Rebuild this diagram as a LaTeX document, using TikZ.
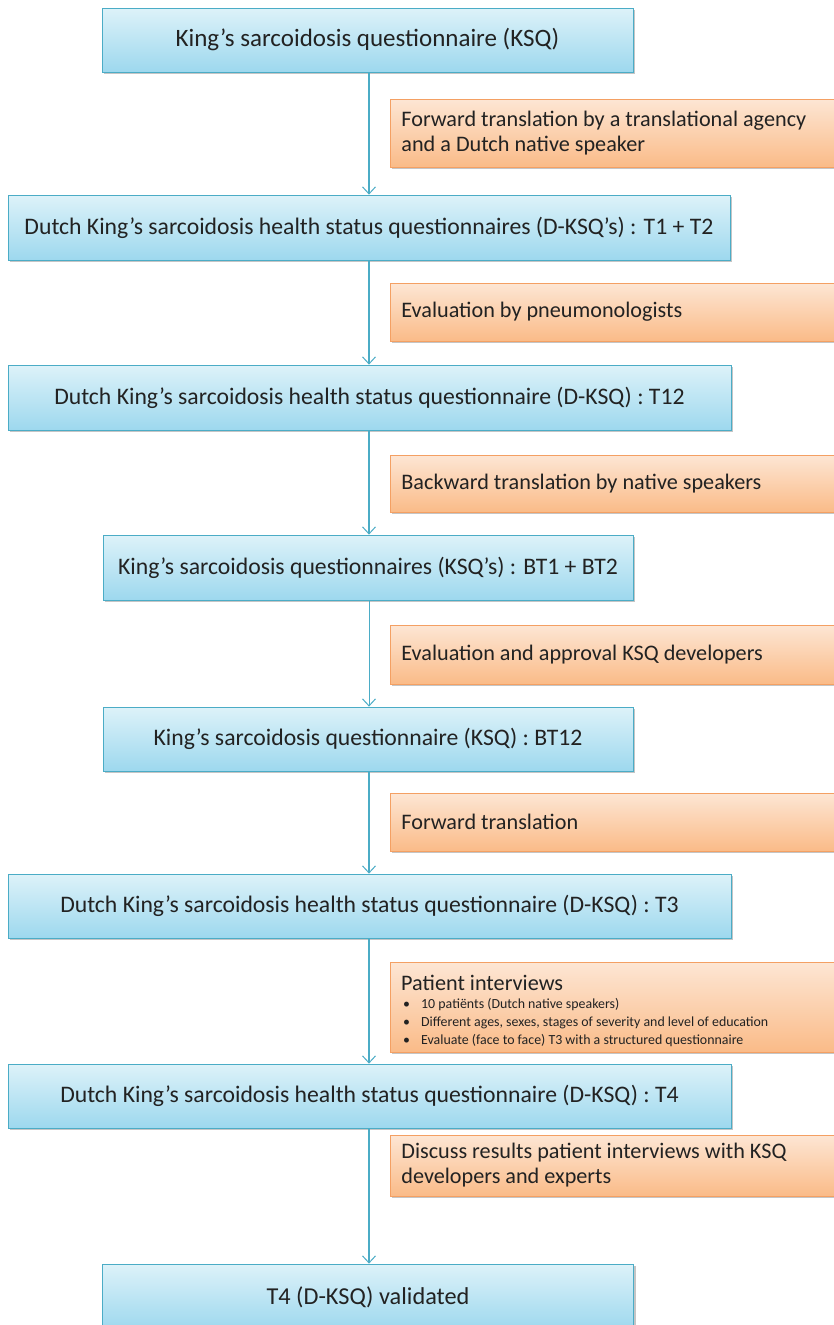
\documentclass[tikz,border=0pt]{standalone}
\usepackage{fontspec}
\setmainfont{Carlito}
\usetikzlibrary{shadows,arrows.meta}
\definecolor{bluetop}{HTML}{DDF2F9}
\definecolor{bluebot}{HTML}{9DD8EE}
\definecolor{blueline}{HTML}{4BACC6}
\definecolor{orgtop}{HTML}{FDE6D4}
\definecolor{orgbot}{HTML}{FABB88}
\definecolor{orgline}{HTML}{F4A063}
\definecolor{txt}{HTML}{222222}
\tikzset{
  bluebox/.style={draw=blueline, line width=0.8pt, top color=bluetop, bottom color=bluebot,
    drop shadow={opacity=0.45, shadow xshift=2pt, shadow yshift=-2pt},
    text=txt, font=\fontsize{23.7}{28}\selectfont, inner sep=0pt, align=center},
  orgbox/.style={draw=orgline, line width=0.8pt, top color=orgtop, bottom color=orgbot,
    drop shadow={opacity=0.45, shadow xshift=2pt, shadow yshift=-2pt},
    text=txt, font=\fontsize{22.2}{25}\selectfont, anchor=west, inner xsep=11pt, inner ysep=0pt,
    minimum width=460pt, text width=438pt, align=flush left},
  orgtext/.style={text=txt, font=\fontsize{22.2}{25}\selectfont, inner sep=0pt,
    text width=430pt, align=flush left},
  arr/.style={draw=blueline, line width=1.3pt, -{Straight Barb[length=7pt,width=13pt,line width=1pt]}}
}
\newcommand{\bulitem}{\makebox[20pt][l]{\hspace{2pt}\textbullet}}
\begin{document}
\begin{tikzpicture}[x=1pt,y=-1pt]
\useasboundingbox[fill=white] (0,0) rectangle (833,1325);
% blue boxes
\node[bluebox, minimum width=531pt, minimum height=64pt, font=\fontsize{25}{30}\selectfont] (b1) at (367.5,40) {King’s sarcoidosis questionnaire (KSQ)};
\node[bluebox, minimum width=722pt, minimum height=65pt] (b2) at (369,227.5) {Dutch King’s sarcoidosis health status questionnaires (D-KSQ’s) : T1 + T2};
\node[bluebox, minimum width=723pt, minimum height=65pt] (b3) at (369.5,397.5) {Dutch King’s sarcoidosis health status questionnaire (D-KSQ) : T12};
\node[bluebox, minimum width=530pt, minimum height=65pt] (b4) at (368,567.5) {King’s sarcoidosis questionnaires (KSQ’s) : BT1 + BT2};
\node[bluebox, minimum width=530pt, minimum height=64pt] (b5) at (368,739) {King’s sarcoidosis questionnaire (KSQ) : BT12};
\node[bluebox, minimum width=723pt, minimum height=64pt] (b6) at (369.5,906) {Dutch King’s sarcoidosis health status questionnaire (D-KSQ) : T3};
\node[bluebox, minimum width=723pt, minimum height=64pt] (b7) at (369.5,1096) {Dutch King’s sarcoidosis health status questionnaire (D-KSQ) : T4};
\node[bluebox, minimum width=531pt, minimum height=66pt, font=\fontsize{24.3}{29}\selectfont] (b8) at (368,1297) {T4 (D-KSQ) validated};
% orange boxes
\node[orgbox, minimum height=68pt] (o1) at (390,133) {Forward translation by a translational agency\\and a Dutch native speaker};
\node[orgbox, minimum height=58pt] (o2) at (390,312) {Evaluation by pneumonologists};
\node[orgbox, minimum height=57pt] (o3) at (390,483.5) {Backward translation by native speakers};
\node[orgbox, minimum height=59pt] (o4) at (390,654.5) {Evaluation and approval KSQ developers};
\node[orgbox, minimum height=58pt] (o5) at (390,822) {Forward translation};
\node[orgbox, minimum height=90pt] (o6) at (390,1007) {};
\node[orgtext, anchor=north west] (o6t) at (401,975) {Patient interviews\\
  {\fontsize{13.9}{18}\selectfont
  \bulitem 10 patiënts (Dutch native speakers)\\
  \bulitem Different ages, sexes, stages of severity and level of education\\
  \bulitem Evaluate (face to face) T3 with a structured questionnaire\par}};
\node[orgbox, minimum height=61pt] (o7) at (390,1165.5) {Discuss results patient interviews with KSQ\\developers and experts};
% arrows
\coordinate (ax) at (369,0);
\draw[arr] (b1.south -| ax) -- (b2.north -| ax);
\draw[arr] (b2.south -| ax) -- (b3.north -| ax);
\draw[arr] (b3.south -| ax) -- (b4.north -| ax);
\draw[arr, line width=0.8pt] (b4.south -| ax) -- (b5.north -| ax);
\draw[arr] (b5.south -| ax) -- (b6.north -| ax);
\draw[arr] (b6.south -| ax) -- (b7.north -| ax);
\draw[arr] (b7.south -| ax) -- (b8.north -| ax);
\end{tikzpicture}
\end{document}
